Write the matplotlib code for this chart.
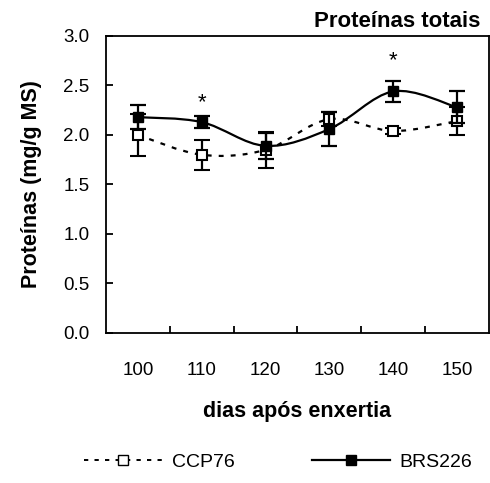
import numpy as np
import matplotlib.pyplot as plt
from matplotlib.path import Path
from matplotlib.patches import PathPatch
from matplotlib.lines import Line2D

plt.rcParams['font.family'] = ['Liberation Sans', 'DejaVu Sans']

dias = ['100', '110', '120', '130', '140', '150']
ccp76 = [2.00, 1.80, 1.85, 2.16, 2.04, 2.14]
ccp76_err = [0.21, 0.15, 0.18, 0.07, 0.03, 0.14]
brs226 = [2.18, 2.13, 1.89, 2.06, 2.44, 2.28]
brs226_err = [0.12, 0.06, 0.13, 0.17, 0.11, 0.16]
asterisco_x = [1, 4]
asterisco_y = [2.33, 2.75]


def smooth(ax, x, y, **kw):
    # Catmull-Rom curve drawn as bezier path, like excel's smoothed line
    pts = np.column_stack([x, y])
    verts = [pts[0]]
    codes = [Path.MOVETO]
    n = len(pts)
    for i in range(n - 1):
        p0 = pts[max(i - 1, 0)]
        p1 = pts[i]
        p2 = pts[i + 1]
        p3 = pts[min(i + 2, n - 1)]
        c1 = p1 + (p2 - p0) / 6
        c2 = p2 - (p3 - p1) / 6
        verts += [c1, c2, p2]
        codes += [Path.CURVE4] * 3
    patch = PathPatch(Path(verts, codes), fill=False, **kw)
    ax.add_patch(patch)


fig = plt.figure(figsize=(4.9, 4.83), dpi=100)
ax = fig.add_axes([0.2163, 0.3106, 0.7816, 0.6149])
x = np.arange(len(dias))

dotted = (0, (2.2, 3.2))
smooth(ax, x, ccp76, color='black', lw=1.6, linestyle=dotted, zorder=2)
smooth(ax, x, brs226, color='black', lw=1.6, zorder=2)

ax.errorbar(x, ccp76, yerr=ccp76_err, fmt='s', mfc='white', mec='black', mew=1.5,
            ms=7, ecolor='black', elinewidth=1.6, capsize=5.5, capthick=1.6, zorder=3)
ax.errorbar(x, brs226, yerr=brs226_err, fmt='s', mfc='black', mec='black',
            ms=7.5, ecolor='black', elinewidth=1.6, capsize=5.5, capthick=1.6, zorder=4)

for ax_x, ax_y in zip(asterisco_x, asterisco_y):
    ax.text(ax_x, ax_y, '*', ha='center', va='center', fontsize=16)

ax.set_xlim(-0.5, 5.5)
ax.set_ylim(0, 3.0)
ax.set_yticks(np.arange(0, 3.01, 0.5))
ax.set_yticklabels(['%.1f' % v for v in np.arange(0, 3.01, 0.5)], fontsize=13.5)
ax.set_xticks(x)
ax.set_xticklabels(dias, fontsize=13.5)
ax.set_xticks(x[:-1] + 0.5, minor=True)
ax.tick_params(axis='x', which='major', length=0, pad=21)
ax.tick_params(axis='x', which='minor', direction='in', length=5, width=1.3)
ax.tick_params(axis='y', direction='in', length=5, width=1.3, pad=12)
for s in ax.spines.values():
    s.set_linewidth(1.3)

ax.set_ylabel('Proteínas (mg/g MS)', fontsize=15.5, fontweight='bold', labelpad=15)
ax.set_xlabel('dias após enxertia', fontsize=15.5, fontweight='bold', labelpad=16)
ax.text(0.978, 1.012, 'Proteínas totais', transform=ax.transAxes, ha='right', va='bottom',
        fontsize=16, fontweight='bold')

h1 = Line2D([], [], color='black', lw=1.4, linestyle=dotted, marker='s',
            mfc='white', mec='black', ms=6.5)
h2 = Line2D([], [], color='black', lw=1.6, marker='s', mfc='black', ms=7)
fig.legend([h1, h2], ['CCP76', 'BRS226'], loc='center', ncol=2, frameon=False,
           bbox_to_anchor=(0.568, 0.044), fontsize=14, columnspacing=4.0,
           handlelength=4.0, handletextpad=0.5)

fig.savefig('out.png', dpi=100)
